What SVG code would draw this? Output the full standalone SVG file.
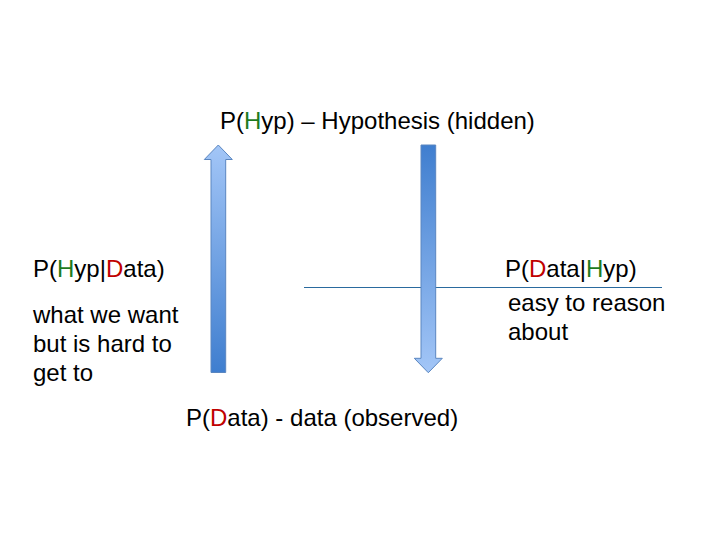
<svg xmlns="http://www.w3.org/2000/svg" width="720" height="540" viewBox="0 0 720 540">
<defs>
<linearGradient id="gUp" x1="0" y1="0" x2="0" y2="1">
<stop offset="0" stop-color="#a3c6f7"/>
<stop offset="1" stop-color="#3f7ecf"/>
</linearGradient>
<linearGradient id="gDown" x1="0" y1="0" x2="0" y2="1">
<stop offset="0" stop-color="#3f7ecf"/>
<stop offset="1" stop-color="#a3c6f7"/>
</linearGradient>
<style>
text{font-family:"Liberation Sans",Arial,sans-serif;font-size:24px;fill:#000}
.g{fill:#1e7b1e}
.r{fill:#c00000}
.arrow{stroke:#5a86c0;stroke-width:1}
</style>
</defs>
<rect width="720" height="540" fill="#fff"/>
<g id="connectors">
<line x1="304" y1="287.5" x2="662" y2="287.5" stroke="#2a6a9e" stroke-width="1"/>
<polygon id="arrow-up" class="arrow" fill="url(#gUp)" points="218.3,145 232.3,159.5 225.7,159.5 225.7,372.5 211,372.5 211,159.5 204.3,159.5"/>
<polygon id="arrow-down" class="arrow" fill="url(#gDown)" points="421,145 435.7,145 435.7,358.3 442.3,358.3 428.3,372.7 414.3,358.3 421,358.3"/>
</g>
<g id="hyp">
<text x="220" y="129">P(<tspan class="g">H</tspan>yp) – Hypothesis (hidden)</text>
</g>
<g id="hyp-given-data">
<text x="33" y="277">P(<tspan class="g">H</tspan>yp|<tspan class="r">D</tspan>ata)</text>
<text x="33" y="323">what we want</text>
<text x="33" y="352">but is hard to</text>
<text x="33" y="381">get to</text>
</g>
<g id="data-given-hyp">
<text x="505" y="277">P(<tspan class="r">D</tspan>ata|<tspan class="g">H</tspan>yp)</text>
<text x="508" y="311">easy to reason</text>
<text x="508" y="340">about</text>
</g>
<g id="data">
<text x="186" y="426">P(<tspan class="r">D</tspan>ata) - data (observed)</text>
</g>
</svg>
